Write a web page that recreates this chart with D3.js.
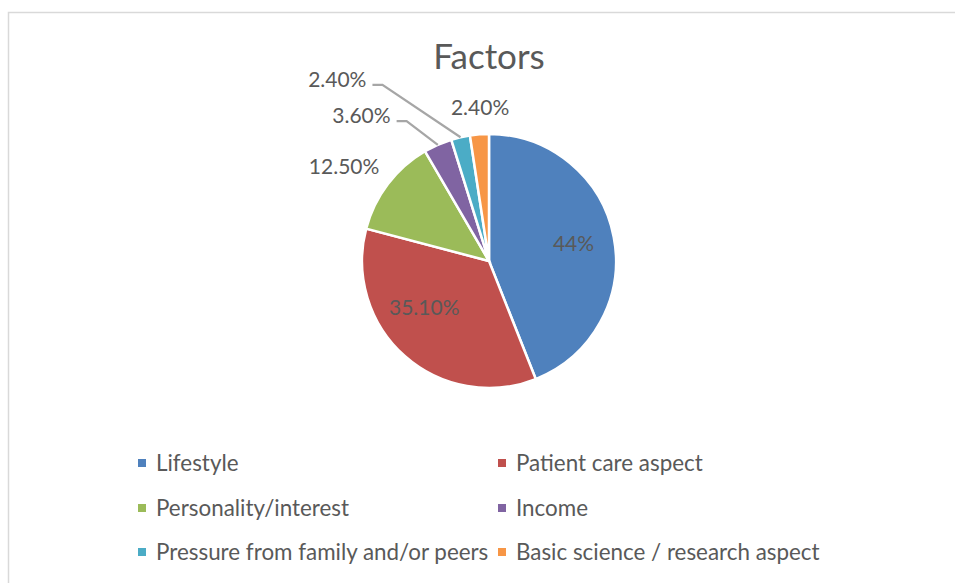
<!DOCTYPE html>
<html><head><meta charset="utf-8">
<script src="https://cdn.jsdelivr.net/npm/d3@7"></script>
<style>body{margin:0;background:#fff}svg{display:block}</style>
</head><body>
<svg id="c" width="955" height="583"></svg>
<script>
const categories = ["Lifestyle","Patient care aspect","Personality/interest","Income","Pressure from family and/or peers","Basic science / research aspect"];
const values = [44, 35.1, 12.5, 3.6, 2.4, 2.4];
const labels = ["44%","35.10%","12.50%","3.60%","2.40%","2.40%"];
const colors = ["#4F81BD","#C0504D","#9BBB59","#8064A2","#4BACC6","#F79646"];
const title = "Factors";

const W=955,H=583, cx=489, cy=261, R=127;
const font = "Lato, 'Open Sans', sans-serif";
const txt = "#595959";
const svg = d3.select("#c");
svg.append("rect").attr("x",8.5).attr("y",12.5).attr("width",960).attr("height",600)
  .attr("fill","#fff").attr("stroke","#D9D9D9").attr("stroke-width",1.5);

svg.append("text").attr("x",cx).attr("y",69).attr("text-anchor","middle")
  .attr("font-family",font).attr("font-size",35).attr("fill",txt).text(title);

const pie = d3.pie().sort(null).value(d=>d)(values);
const arc = d3.arc().innerRadius(0).outerRadius(R);
const g = svg.append("g").attr("transform",`translate(${cx},${cy})`);
g.selectAll("path").data(pie).join("path").attr("d",arc)
  .attr("fill",(d,i)=>colors[i]).attr("stroke","#fff").attr("stroke-width",2.5);

// label layout: radius and angle offset (deg) relative to slice mid-angle
const layout = [
  {r:0.68*R, da:-1},
  {r:0.63*R, da:12.5},
  {r:1.36*R, da:-4.3},
  {r:1.52*R, da:-17.6},
  {r:1.86*R, da:-27},
  {r:1.21*R, da:1},
];
const leaders=[false,false,false,true,true,false];
pie.forEach((d,i)=>{
  const mid=(d.startAngle+d.endAngle)/2;
  const a=mid+layout[i].da*Math.PI/180;
  const x=Math.sin(a)*layout[i].r, y=-Math.cos(a)*layout[i].r;
  const t=g.append("text").attr("x",x).attr("y",y).attr("dy","0.35em")
    .attr("text-anchor","middle").attr("font-family",font).attr("font-size",21)
    .attr("fill",txt).text(labels[i]);
  if(leaders[i]){
    const w=t.node().getComputedTextLength();
    const ex=Math.sin(mid)*R, ey=-Math.cos(mid)*R;
    const sx=x+w/2+6, sy=y+5;
    g.append("polyline").attr("points",`${sx},${sy} ${sx+10},${sy} ${ex},${ey}`)
      .attr("fill","none").attr("stroke","#A6A6A6").attr("stroke-width",2.2);
  }
});

// legend
const legCols=[141,501], legRows=[463,508,552];
const lg=svg.append("g");
categories.forEach((c,i)=>{
  const x=legCols[i%2], y=legRows[Math.floor(i/2)];
  lg.append("rect").attr("x",x-3).attr("y",y-4).attr("width",8).attr("height",8).attr("fill",colors[i]);
  lg.append("text").attr("x",x+15).attr("y",y).attr("dy","0.35em")
    .attr("font-family",font).attr("font-size",22.4).attr("fill",txt).text(c);
});
</script>
</body></html>
